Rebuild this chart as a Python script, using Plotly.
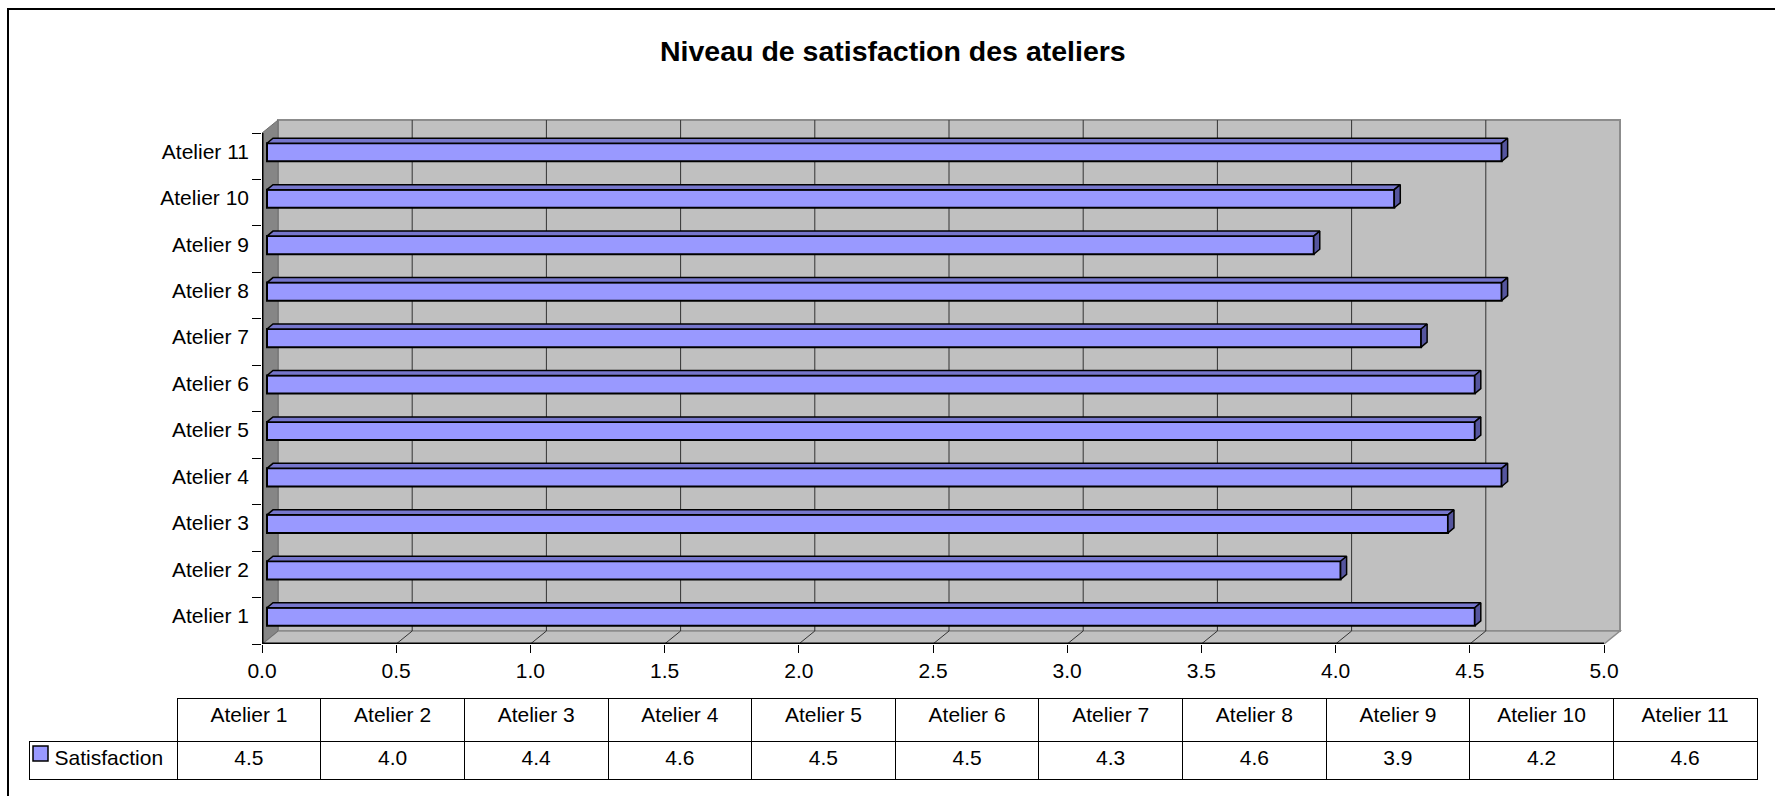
import plotly.graph_objects as go

# ---------------- data ----------------
categories = ["Atelier 1", "Atelier 2", "Atelier 3", "Atelier 4", "Atelier 5", "Atelier 6",
              "Atelier 7", "Atelier 8", "Atelier 9", "Atelier 10", "Atelier 11"]
satisfaction = [4.5, 4.0, 4.4, 4.6, 4.5, 4.5, 4.3, 4.6, 3.9, 4.2, 4.6]
x_ticks = [0.0, 0.5, 1.0, 1.5, 2.0, 2.5, 3.0, 3.5, 4.0, 4.5, 5.0]
series_name = "Satisfaction"
title_text = "Niveau de satisfaction des ateliers"

# ---------------- geometry / style ----------------
FIG_W, FIG_H = 1775, 796
FONT = "Liberation Sans, Arial, sans-serif"
LABEL_SIZE = 21
TITLE_SIZE = 28.5


def px(x):
    return x / FIG_W


def py(y):
    return 1 - y / FIG_H


UNIT_PX = 268.4      # pixels per x unit
BAND_PX = 46.45      # pixels per category
DOM_L, DOM_R, DOM_T, DOM_B = 262, 1624, 114, 644
x_range = [0, (DOM_R - DOM_L) / UNIT_PX]
y_range = [-0.5, -0.5 + (DOM_B - DOM_T) / BAND_PX]
DX = 16 / UNIT_PX    # 3D depth offset (x)
DY = 13 / BAND_PX    # 3D depth offset (y)
SX = 5 / UNIT_PX     # bar shift into depth
SY = 4 / BAND_PX
LY = 5 / BAND_PX     # label shift (labels line up with bar centres)
BDX = 6 / UNIT_PX    # bar depth
BDY = 5 / BAND_PX
BW = 0.39            # bar thickness (category units)

BAR_FRONT = "#9999FF"
BAR_TOP = "#7676CC"
BAR_SIDE = "#55559E"
WALL = "#C0C0C0"
SIDE_WALL = "#868686"

n = len(categories)
x_max = x_ticks[-1]
ypos = list(range(n))

fig = go.Figure()

# front faces of bars
fig.add_trace(go.Bar(
    x=satisfaction, y=[k + SY for k in ypos], base=SX, orientation="h", width=BW,
    marker=dict(color=BAR_FRONT, line=dict(color="black", width=2)),
    showlegend=False, hoverinfo="skip"))

# top and side faces of bars (3D look), computed from data
for k, v in zip(ypos, satisfaction):
    yc = k + SY
    x_a, x_b = SX, SX + v
    y_t, y_b = yc + BW / 2, yc - BW / 2
    fig.add_trace(go.Scatter(
        x=[x_a, x_b, x_b + BDX, x_a + BDX, x_a],
        y=[y_t, y_t, y_t + BDY, y_t + BDY, y_t],
        fill="toself", fillcolor=BAR_TOP, mode="lines",
        line=dict(color="black", width=1.5), showlegend=False, hoverinfo="skip"))
    fig.add_trace(go.Scatter(
        x=[x_b, x_b + BDX, x_b + BDX, x_b, x_b],
        y=[y_b, y_b + BDY, y_t + BDY, y_t, y_b],
        fill="toself", fillcolor=BAR_SIDE, mode="lines",
        line=dict(color="black", width=1.5), showlegend=False, hoverinfo="skip"))

# data table
NBSP = "\u00a0"
fig.add_trace(go.Table(
    domain=dict(x=[px(29), px(1757)], y=[py(781), py(698)]),
    columnwidth=[148] + [143.5] * n,
    header=dict(
        values=[""] + categories, height=43, align="center",
        fill_color=["rgba(0,0,0,0)"] + ["white"] * n,
        line=dict(color=["rgba(0,0,0,0)"] + ["black"] * n, width=1),
        font=dict(family=FONT, size=LABEL_SIZE, color="black")),
    cells=dict(
        values=[[NBSP * 3 + series_name]] + [[f"{v:.1f}"] for v in satisfaction],
        height=38, align=["left"] + ["center"] * n,
        fill_color=["rgba(0,0,0,0)"] + ["white"] * n,
        line=dict(color="black", width=1),
        font=dict(family=FONT, size=LABEL_SIZE, color="black")),
))

shapes = []
# back wall
shapes.append(dict(type="rect", xref="x", yref="y", x0=DX, x1=x_max + DX,
                   y0=-0.5 + DY, y1=n - 0.5 + DY, fillcolor=WALL,
                   line=dict(color="#8C8C8C", width=2), layer="below"))
# floor
shapes.append(dict(type="path", xref="x", yref="y",
                   path=f"M 0,-0.5 L {x_max},-0.5 L {x_max + DX},{-0.5 + DY} L {DX},{-0.5 + DY} Z",
                   fillcolor=WALL, line=dict(color="#8C8C8C", width=1.5), layer="below"))
# side wall
shapes.append(dict(type="path", xref="x", yref="y",
                   path=f"M 0,-0.5 L 0,{n - 0.5} L {DX},{n - 0.5 + DY} L {DX},{-0.5 + DY} Z",
                   fillcolor=SIDE_WALL, line=dict(color="#707070", width=1), layer="below"))
# gridlines on back wall and floor
for t in x_ticks[1:-1]:
    shapes.append(dict(type="line", xref="x", yref="y", x0=t + DX, x1=t + DX,
                       y0=-0.5 + DY, y1=n - 0.5 + DY,
                       line=dict(color="#333333", width=1), layer="below"))
    shapes.append(dict(type="line", xref="x", yref="y", x0=t, x1=t + DX,
                       y0=-0.5, y1=-0.5 + DY,
                       line=dict(color="#333333", width=1), layer="below"))
# front edges (axes lines)
shapes.append(dict(type="line", xref="x", yref="y", x0=0, x1=x_max, y0=-0.5, y1=-0.5,
                   line=dict(color="black", width=3), layer="below"))
shapes.append(dict(type="line", xref="x", yref="y", x0=0, x1=0, y0=-0.5, y1=n - 0.5,
                   line=dict(color="black", width=3), layer="below"))
# legend key in the table
shapes.append(dict(type="rect", xref="paper", yref="paper", x0=px(33), x1=px(48),
                   y0=py(761), y1=py(746), fillcolor=BAR_FRONT,
                   line=dict(color="black", width=1.5), layer="above"))
# chart area border
shapes.append(dict(type="rect", xref="paper", yref="paper", x0=px(8), x1=1.05,
                   y0=-0.05, y1=py(9), fillcolor="rgba(0,0,0,0)",
                   line=dict(color="black", width=2), layer="above"))

fig.update_layout(
    template="none",
    width=FIG_W, height=FIG_H, autosize=False,
    margin=dict(l=0, r=0, t=0, b=0, pad=0, autoexpand=False),
    paper_bgcolor="white", plot_bgcolor="rgba(0,0,0,0)",
    font=dict(family=FONT, size=LABEL_SIZE, color="black"),
    shapes=shapes,
    showlegend=False,
    annotations=[dict(text=f"<b>{title_text}</b>", xref="paper", yref="paper",
                      x=px(893), y=py(51), xanchor="center", yanchor="middle",
                      showarrow=False, font=dict(family=FONT, size=TITLE_SIZE, color="black"))],
    xaxis=dict(domain=[px(DOM_L), px(DOM_R)], range=x_range, showgrid=False,
               zeroline=False, showline=False, automargin=False,
               tickmode="array", tickvals=x_ticks,
               ticktext=[f"{t:.1f}" for t in x_ticks], ticks="outside", ticklen=8,
               tickcolor="black", tickwidth=1, tickfont=dict(size=LABEL_SIZE),
               fixedrange=True),
    yaxis=dict(domain=[py(DOM_B), py(DOM_T)], range=y_range, showgrid=False,
               zeroline=False, showline=False, automargin=False,
               tickmode="array", tickvals=[k + LY for k in ypos],
               ticktext=categories, ticks="", ticklabelstandoff=12,
               tickfont=dict(size=LABEL_SIZE),
               minor=dict(tickmode="array", tickvals=[k - 0.5 for k in range(n + 1)],
                          ticks="outside", ticklen=9, tickcolor="black", tickwidth=1),
               fixedrange=True),
)

fig.write_html(
    "out.html",
    config={"displayModeBar": False, "responsive": False},
    post_script="document.documentElement.style.margin='0';"
                "document.body.style.margin='0';"
                "document.body.style.overflow='hidden';",
)
